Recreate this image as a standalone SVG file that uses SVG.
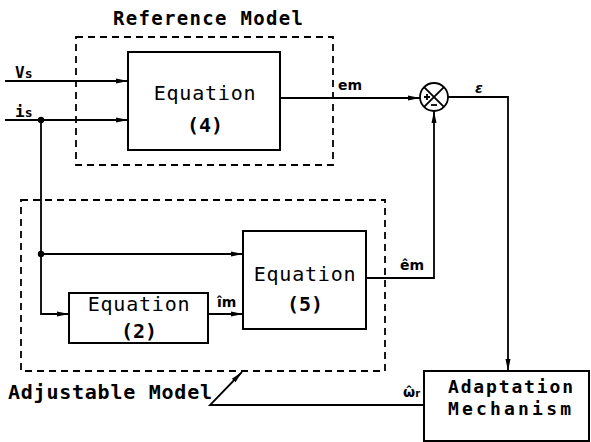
<svg xmlns="http://www.w3.org/2000/svg" width="591" height="442" viewBox="0 0 591 442">
<style>
.box{fill:#fff;stroke:#000;stroke-width:2}
.dash{fill:none;stroke:#000;stroke-width:1.8;stroke-dasharray:7,5}
.ln{fill:none;stroke:#000;stroke-width:1.8}
.t{font-family:"DejaVu Sans Mono","Liberation Mono",monospace;font-size:20px;fill:#000;text-anchor:middle}
.b{font-family:"DejaVu Sans Mono","Liberation Mono",monospace;font-weight:bold;fill:#000}
.lb{font-family:"DejaVu Sans",sans-serif;font-weight:bold;fill:#000;font-size:14px}
</style>
<defs>
<marker id="ar" viewBox="0 0 12 8" refX="12" refY="4" markerWidth="12" markerHeight="8" markerUnits="userSpaceOnUse" orient="auto">
<path d="M0,1.5 L12,4 L0,6.5 Z" fill="#000"/>
</marker>
</defs>
<g id="reference-model">
<rect class="dash" x="76" y="37" width="257" height="128"/>
<text class="b" x="113" y="25" font-size="19" textLength="190" lengthAdjust="spacing">Reference  Model</text>
</g>
<g id="adjustable-model">
<rect class="dash" x="21" y="200" width="364" height="171"/>
<text class="b" x="8" y="399" font-size="20" textLength="204" lengthAdjust="spacing">Adjustable Model</text>
</g>
<g id="eq4">
<rect class="box" x="128" y="52" width="152" height="98"/>
<text class="t" x="205" y="100" letter-spacing="0.8">Equation</text>
<text class="t" x="205" y="132" font-weight="bold">(4)</text>
</g>
<g id="eq5">
<rect class="box" x="243" y="231" width="123" height="98"/>
<text class="t" x="305" y="281" letter-spacing="0.8">Equation</text>
<text class="t" x="305" y="311" font-weight="bold">(5)</text>
</g>
<g id="eq2">
<rect class="box" x="69" y="293" width="139" height="50"/>
<text class="t" x="139" y="311" letter-spacing="0.8">Equation</text>
<text class="t" x="139" y="338" font-weight="bold">(2)</text>
</g>
<g id="adaptation">
<rect class="box" x="424" y="371" width="165" height="70"/>
<text class="b" x="448" y="393" font-size="18" textLength="125" lengthAdjust="spacing">Adaptation</text>
<text class="b" x="448" y="415" font-size="18" textLength="123" lengthAdjust="spacing">Mechanism</text>
</g>
<g id="sum">
<circle cx="434" cy="97" r="14" fill="#fff" stroke="#000" stroke-width="1.8"/>
<path class="ln" d="M424.1,87.1 L443.9,106.9 M443.9,87.1 L424.1,106.9" stroke-width="1.5"/>
<path class="ln" d="M424,97 h6 M427,94 v6" stroke-width="1.6"/>
<path class="ln" d="M431,105 h6" stroke-width="1.8"/>
</g>
<g id="connectors">
<path class="ln" d="M5,81 H128" marker-end="url(#ar)"/>
<path class="ln" d="M5,120 H128" marker-end="url(#ar)"/>
<circle cx="41" cy="120" r="3.2" fill="#000"/>
<path class="ln" d="M41,120 V314 H69" marker-end="url(#ar)"/>
<circle cx="41" cy="254" r="3.2" fill="#000"/>
<path class="ln" d="M41,254 H243" marker-end="url(#ar)"/>
<path class="ln" d="M208,314 H243" marker-end="url(#ar)"/>
<path class="ln" d="M280,98 H420" marker-end="url(#ar)"/>
<path class="ln" d="M366,278 H434 V111" marker-end="url(#ar)"/>
<path class="ln" d="M448,97 H508 V371" marker-end="url(#ar)"/>
<path class="ln" d="M424,405 H210 L242,372" marker-end="url(#ar)"/>
<text class="b" x="15" y="78" font-size="16">V<tspan font-size="13">s</tspan></text>
<text class="b" x="15" y="117" font-size="16">i<tspan font-size="13">s</tspan></text>
<text class="lb" x="338" y="90">em</text>
<text class="lb" x="475" y="93" font-style="italic" font-family="DejaVu Serif,serif">ε</text>
<text class="lb" x="400" y="270">êm</text>
<text class="lb" x="217" y="307">îm</text>
<text class="lb" x="403" y="397">ω̂<tspan font-size="10">r</tspan></text>
</g>
</svg>
